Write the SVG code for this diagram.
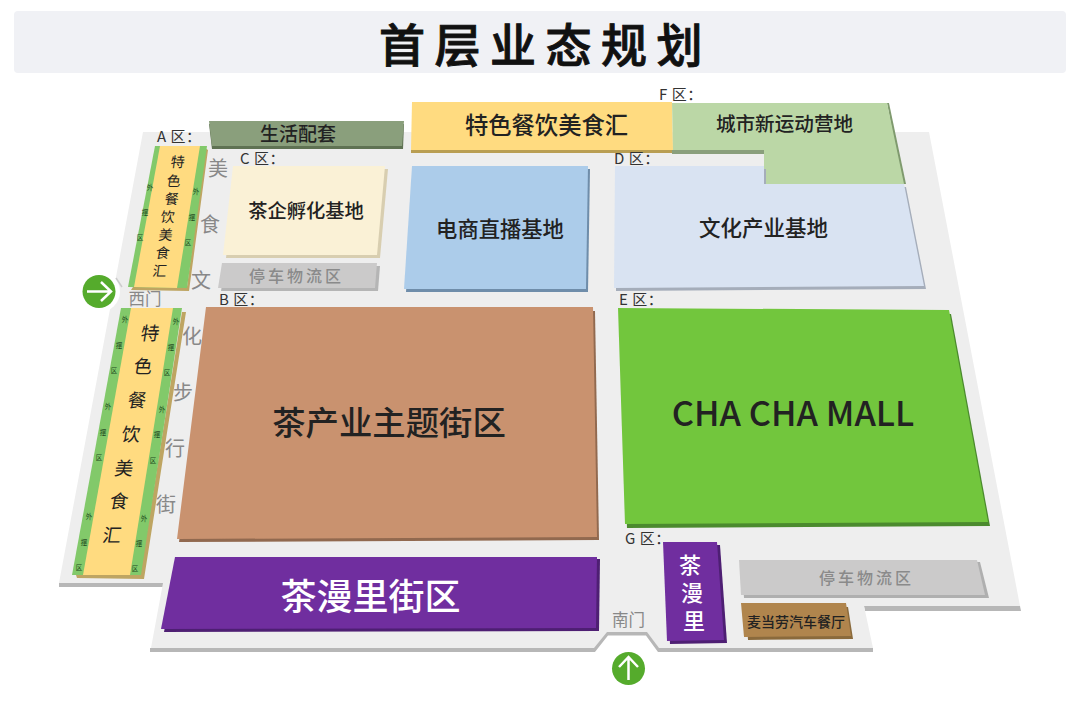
<svg xmlns="http://www.w3.org/2000/svg" width="1080" height="705" viewBox="0 0 1080 705">
<style>
svg{fill:#222}
text{font-family:"Noto Sans CJK SC","Noto Sans",sans-serif;text-anchor:middle;font-weight:500}
.zone{font-size:15px;fill:#333;text-anchor:start;letter-spacing:.5px;font-weight:400}
.walk{font-size:20px;fill:#888;font-weight:400}
.door{font-size:16.500px;fill:#888;font-weight:400}
.tiny{font-size:6.500px;fill:#1d4a1d;font-weight:400}
.strip{fill:#82c96a}
.y{fill:#ffdb80}
.pk{font-size:16px;fill:#8a8a8a;letter-spacing:3px}
.wh{fill:#fff}
.a{font-size:14px;font-weight:400}
.w{font-size:18.500px;font-weight:400}
</style>
<rect width="1080" height="705" fill="#fff"/>
<g id="title"><rect x="14" y="11" width="1052" height="62" rx="4" fill="#f0f1f5"/>
<text x="545.500" y="62" font-size="46" font-weight="900" fill="#111" stroke="#111" stroke-width=".9" style="letter-spacing:9.500px">首层业态规划</text></g>
<g id="floor">
<path d="M59 583H163L163 587H59Z" fill="#b7b7b7"/>
<path d="M150 650H594L607 633.500H647L659 650H873" fill="none" stroke="#b7b7b7" stroke-width="4"/>
<path d="M864 606H1020L1021 611H865Z" fill="#b7b7b7"/>
<path d="M143 132H929L1020 606H864L873 648H659L647 632H607L594 648H151L163 583H59Z" fill="#eee"/>
<circle cx="99" cy="291.500" r="21" fill="#fff"/>
<path d="M116 278L122 287" stroke="#ccc" stroke-width="1.500" fill="none"/>
</g>
<g id="life"><path d="M209 124H404L403 149H212Z" fill="#5f7253"/><path d="M209 121H404L402 146H212Z" fill="#8a9f7c"/><text x="298" y="141" font-size="19">生活配套</text></g>
<g id="f-food"><path d="M411 153H673V149H411Z" fill="#b99e52"/><path d="M412 102H672L673 150H411Z" class="y"/><text x="546.500" y="134" font-size="23.300">特色餐饮美食汇</text></g>
<g id="f-sport"><path d="M672 150H764V154H672Z" fill="#8a9f7c"/><path d="M889 103L906 184H902L887 103Z" fill="#7f9a6e"/><path d="M672 103H887L904 184H764V150H673Z" fill="#bbd7a6"/><text x="784.500" y="131" font-size="19.600">城市新运动营地</text></g>
<g id="a-food"><path d="M208 150L189 291 131 290 133 287 187 287 205 148Z" fill="#bea562"/><path d="M155 146H207L187 288 128 287Z" class="strip"/><path d="M160 146H200L177 288 134 287Z" class="y"/>
<g><text transform="translate(177 167) skewX(-8)" class="a">特</text><text transform="translate(173 186) skewX(-8)" class="a">色</text><text transform="translate(171 204) skewX(-8)" class="a">餐</text><text transform="translate(167 222) skewX(-8)" class="a">饮</text><text transform="translate(165 240) skewX(-8)" class="a">美</text><text transform="translate(162 258) skewX(-8)" class="a">食</text><text transform="translate(159 276) skewX(-8)" class="a">汇</text></g>
<text x="150" y="190" class="tiny">外</text><text x="145" y="215" class="tiny">摆</text><text x="140" y="240" class="tiny">区</text><text x="196" y="194" class="tiny">外</text><text x="192" y="220" class="tiny">摆</text><text x="188" y="245" class="tiny">区</text></g>
<g id="c"><path d="M236 169H388L380 258H226Z" fill="#d8ceb0"/><path d="M233 166H385L377 255H223Z" fill="#faf1d6"/><text x="306" y="218" font-size="19.300">茶企孵化基地</text></g>
<g id="c-park"><path d="M225 266H380L378 291H221Z" fill="#b5b5b5"/><path d="M222 263H377L375 288H218Z" fill="#cbcaca"/><text x="296.500" y="282" class="pk">停车物流区</text></g>
<g id="ecom"><path d="M414 169H590L588 292H406Z" fill="#6f8daa"/><path d="M412 166H588L586 289H404Z" fill="#acccea"/><text x="500" y="237" font-size="21.300">电商直播基地</text></g>
<g id="d"><path d="M617 169H766V187H906L926 289 616 291Z" fill="#a5adba"/><path d="M615 166H764V184H904L924 286 614 288Z" fill="#d9e3f2"/><text x="763.500" y="236" font-size="21.500">文化产业基地</text></g>
<g id="b"><path d="M208 311H595L599 540 179 542Z" fill="#91694f"/><path d="M206 307H593L597 537 177 539Z" fill="#c9926f"/><text x="389" y="435" font-size="33.400">茶产业主题街区</text></g>
<g id="e"><path d="M620 312L951 314 990 526 627 528Z" fill="#4b8a2e"/><path d="M618 308L949 310 988 522 625 524Z" fill="#72c63d"/><text x="793" y="426" font-size="34.500" font-family="Noto Sans">CHA CHA MALL</text></g>
<g id="street"><path d="M178 559H600L599 631 164 632Z" fill="#4e1f73"/><path d="M175 557H597L596 628 161 629Z" fill="#702e9f"/><text x="370.500" y="610" font-size="36" fill="#fff">茶漫里街区</text></g>
<g id="g"><path d="M666 545H720L727 643 670 644Z" fill="#4e1f73"/><path d="M663 542H717L724 640 667 641Z" fill="#702e9f"/><text x="690" y="573" font-size="22" class="wh">茶</text><text x="692" y="601" font-size="22" class="wh">漫</text><text x="694" y="629" font-size="22" class="wh">里</text></g>
<g id="g-park"><path d="M742 562H980L989 598 744 598Z" fill="#afafaf"/><path d="M739 560H977L985 595 741 595Z" fill="#cbcaca"/><text x="866.500" y="584" class="pk">停车物流区</text></g>
<g id="mcd"><path d="M746 607H848L853 639 748 640Z" fill="#8a6a3c"/><path d="M741 603H846L851 636 744 637Z" fill="#b0854d"/><text x="796" y="627" font-size="14">麦当劳汽车餐厅</text></g>
<g id="west-food"><path d="M182 312H186L144 579 77 578 76 575H140Z" fill="#bea562"/><path d="M121 308H182L141 575H72Z" class="strip"/><path d="M131 308H173L130 575H83Z" class="y"/>
<g><text transform="translate(149 340) skewX(-9)" class="w">特</text><text transform="translate(142 373) skewX(-9)" class="w">色</text><text transform="translate(136 407) skewX(-9)" class="w">餐</text><text transform="translate(130 441) skewX(-9)" class="w">饮</text><text transform="translate(123 475) skewX(-9)" class="w">美</text><text transform="translate(118 508) skewX(-9)" class="w">食</text><text transform="translate(111 542) skewX(-9)" class="w">汇</text></g>
<text x="125" y="322" class="tiny">外</text><text x="119" y="348" class="tiny">摆</text><text x="114" y="373" class="tiny">区</text><text x="108" y="409" class="tiny">外</text><text x="103" y="435" class="tiny">摆</text><text x="99" y="460" class="tiny">区</text><text x="89" y="519" class="tiny">外</text><text x="84" y="545" class="tiny">摆</text><text x="79" y="570" class="tiny">区</text>
<text x="176" y="324" class="tiny">外</text><text x="171" y="350" class="tiny">摆</text><text x="167" y="375" class="tiny">区</text><text x="162" y="412" class="tiny">外</text><text x="157" y="437" class="tiny">摆</text><text x="153" y="463" class="tiny">区</text><text x="144" y="521" class="tiny">外</text><text x="139" y="546" class="tiny">摆</text><text x="135" y="571" class="tiny">区</text></g>
<g id="labels">
<text x="157" y="142" class="zone">A 区：</text><text x="240" y="164" class="zone">C 区：</text><text x="219" y="305" class="zone">B 区：</text><text x="614" y="164" class="zone">D 区：</text><text x="619" y="305" class="zone">E 区：</text><text x="659" y="100" class="zone">F 区：</text><text x="625" y="544" class="zone">G 区：</text>
<text x="218" y="176" class="walk">美</text><text x="210" y="232" class="walk">食</text><text x="201" y="288" class="walk">文</text><text x="192" y="344" class="walk">化</text><text x="183" y="400" class="walk">步</text><text x="175" y="456" class="walk">行</text><text x="166" y="512" class="walk">街</text>
<text x="145" y="305" class="door">西门</text><text x="628.500" y="626" class="door">南门</text>
</g>
<g id="west-door"><circle cx="99" cy="291.500" r="16.500" fill="#55ab2c"/><path d="M87 291.500H111M101 282L111 291.500 101 301" fill="none" stroke="#fff" stroke-width="2.500"/></g>
<g id="south-door"><circle cx="628.500" cy="668.500" r="16.500" fill="#55ab2c"/><path d="M628.500 680V657M619 667L628.500 657 638 667" fill="none" stroke="#fff" stroke-width="2.500"/></g>
</svg>
